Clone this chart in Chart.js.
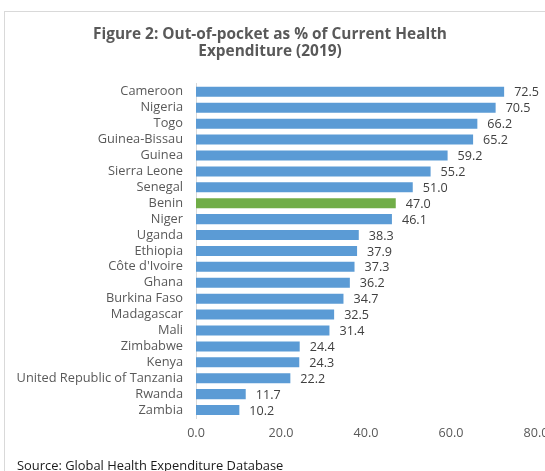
<!DOCTYPE html>
<html>
<head>
<meta charset="utf-8">
<script src="https://cdn.jsdelivr.net/npm/chart.js@4.4.1/dist/chart.umd.min.js"></script>
<style>
  html, body { margin: 0; padding: 0; background: #fff; }
  #wrap { position: relative; width: 545px; height: 471px; overflow: hidden; background: #fff; }
  #frame { position: absolute; left: 4px; top: 11px; width: 600px; height: 520px; border: 1px solid #d9d9d9; box-sizing: border-box; }
  #cv { position: absolute; left: 0; top: 0; }
  #src { position: absolute; left: 17px; top: 456px; font-family: "Open Sans", "Noto Sans", sans-serif; font-size: 12.9px; color: #1a1a1a; white-space: nowrap; }
</style>
</head>
<body>
<div id="wrap">
  <div id="frame"></div>
  <canvas id="cv" width="600" height="471" style="width:600px;height:471px"></canvas>
  <div id="src">Source: Global Health Expenditure Database</div>
</div>
<script>
const countries = [
  "Cameroon", "Nigeria", "Togo", "Guinea-Bissau", "Guinea", "Sierra Leone",
  "Senegal", "Benin", "Niger", "Uganda", "Ethiopia", "Côte d'Ivoire", "Ghana",
  "Burkina Faso", "Madagascar", "Mali", "Zimbabwe", "Kenya",
  "United Republic of Tanzania", "Rwanda", "Zambia"
];
const oopShare = [
  72.5, 70.5, 66.2, 65.2, 59.2, 55.2, 51.0, 47.0, 46.1, 38.3, 37.9, 37.3,
  36.2, 34.7, 32.5, 31.4, 24.4, 24.3, 22.2, 11.7, 10.2
];
const highlighted = "Benin";
const xTicks = [0, 20, 40, 60, 80];

const BLUE = "#5b9bd5";
const GREEN = "#70ad47";
const FONT = "'Open Sans', 'Noto Sans', sans-serif";

// Value labels written just past the end of each bar
const barValueLabels = {
  id: "barValueLabels",
  afterDatasetsDraw(chart) {
    const ctx = chart.ctx;
    const meta = chart.getDatasetMeta(0);
    ctx.save();
    ctx.font = "12.6px " + FONT;
    ctx.fillStyle = "#404040";
    ctx.textAlign = "left";
    ctx.textBaseline = "middle";
    meta.data.forEach((bar, i) => {
      ctx.fillText(oopShare[i].toFixed(1), bar.x + 10, bar.y + 1);
    });
    ctx.restore();
  }
};

new Chart(document.getElementById("cv"), {
  type: "bar",
  data: {
    labels: countries,
    datasets: [{
      data: oopShare,
      backgroundColor: countries.map(c => c === highlighted ? GREEN : BLUE),
      borderWidth: 0,
      barPercentage: 0.63,
      categoryPercentage: 1.0
    }]
  },
  options: {
    indexAxis: "y",
    responsive: false,
    animation: false,
    devicePixelRatio: 1,
    layout: { padding: { left: 4, right: 64, top: 14, bottom: 23 } },
    plugins: {
      legend: { display: false },
      tooltip: { enabled: false },
      title: {
        display: true,
        text: ["Figure 2: Out-of-pocket as % of Current Health", "Expenditure (2019)"],
        color: "#595959",
        font: { family: FONT, size: 15.4, weight: "bold", lineHeight: 1.1 },
        padding: { top: 12.5, bottom: 23.5 }
      }
    },
    scales: {
      x: {
        min: 0,
        max: 80,
        afterBuildTicks: s => { s.ticks = xTicks.map(v => ({ value: v })); },
        grid: { display: false, drawTicks: false },
        border: { display: false },
        ticks: {
          color: "#595959",
          font: { family: FONT, size: 12.6 },
          padding: 8,
          maxRotation: 0,
          callback: v => Number(v).toFixed(1)
        },
        afterFit: s => { s.height = 30; }
      },
      y: {
        grid: { display: false, drawTicks: false },
        border: { display: true, color: "#d9d9d9", width: 1 },
        ticks: {
          color: "#595959",
          font: { family: FONT, size: 12.8 },
          padding: 13,
          autoSkip: false
        },
        afterFit: s => { s.width = 192; }
      }
    }
  },
  plugins: [barValueLabels]
});
</script>
</body>
</html>
